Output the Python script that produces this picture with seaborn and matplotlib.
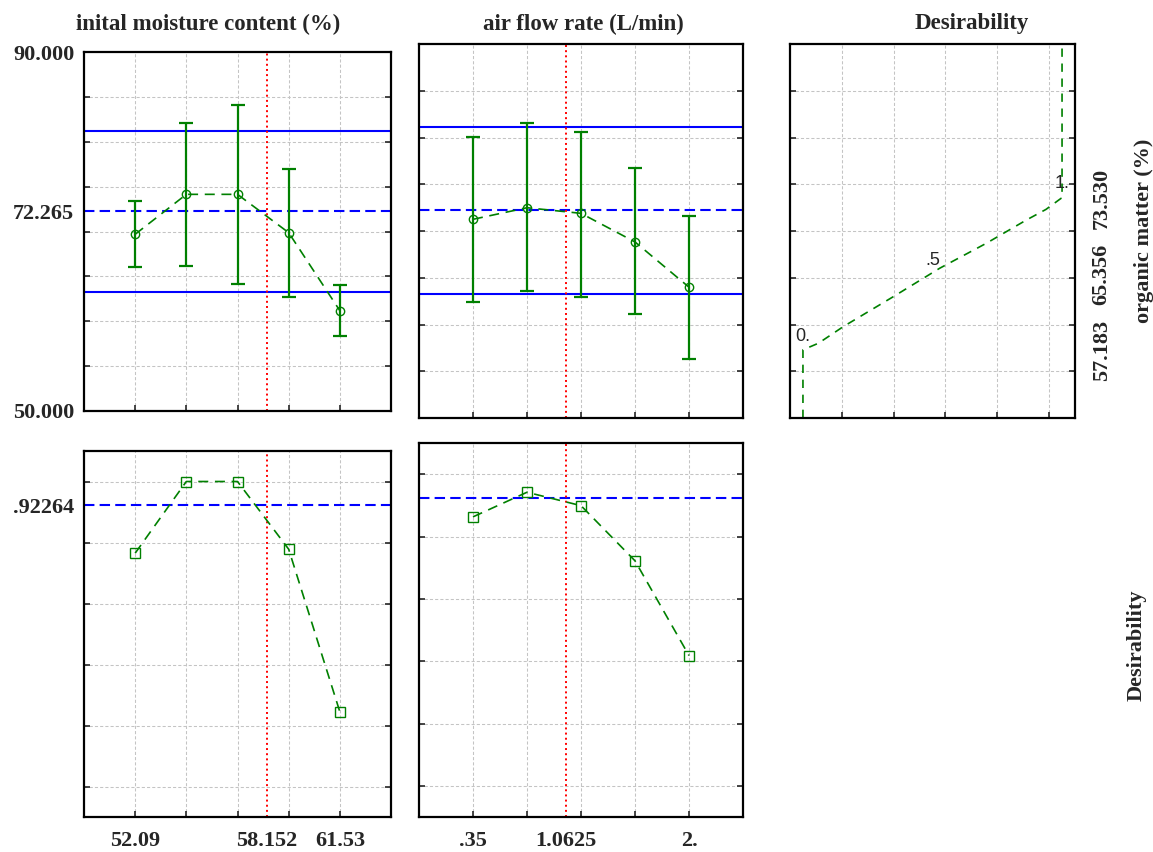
import numpy as np
import pandas as pd
import matplotlib
matplotlib.use("Agg")
import matplotlib.pyplot as plt
import seaborn as sns

# profiles for predicted values and desirability
moist_levels = [52.09, 54.45, 56.81, 59.17, 61.53]
moist_ticks = ["52.09", "", "", "", "61.53"]
om_moist = [69.69, 74.14, 74.14, 69.87, 61.18]
om_moist_lo = [66.08, 66.16, 64.15, 62.74, 58.36]
om_moist_hi = [73.36, 82.09, 84.13, 76.96, 64.04]
des_moist = [0.765, 1.0, 1.0, 0.778, 0.245]

flow_levels = [0.35, 0.7625, 1.175, 1.5875, 2.0]
flow_ticks = [".35", "", "", "", "2."]
om_flow = [71.25, 72.49, 71.89, 68.83, 63.99]
om_flow_lo = [62.45, 63.59, 62.99, 61.14, 56.33]
om_flow_hi = [80.04, 81.53, 80.57, 76.69, 71.57]
des_flow = [0.863, 0.942, 0.899, 0.722, 0.418]

om_ci = [63.27, 81.17]
om_pred = 72.265
des_pred = 0.92264
moist_opt = 58.152
flow_opt = 1.0625

# desirability function for organic matter
des_curve_d = [0.0, 0.0, 0.06, 0.156, 0.349, 0.528, 0.708, 0.862, 0.938, 0.996, 1.0, 1.0]
des_curve_y = [50.0, 57.29, 58.0, 59.78, 62.98, 66.02, 68.69, 71.17, 72.31, 73.49, 73.53, 90.0]
des_anchor_d = [0.0, 0.5, 1.0]
des_anchor_y = [57.183, 65.356, 73.530]
des_anchor_txt = ["0.", ".5", "1."]
des_anchor_ticks = ["57.183", "65.356", "73.530"]

sns.set_style("ticks")
plt.rcParams['font.family'] = ['Liberation Serif', 'DejaVu Serif']
plt.rcParams['font.weight'] = 'bold'

W, H = 1153, 852
fig = plt.figure(figsize=(W / 100, H / 100), dpi=100)
GREEN = '#008000'
FS = 16
TFS = 16.5


def px_axes(left, top, right, bottom):
    return fig.add_axes([left / W, 1 - bottom / H, (right - left) / W, (bottom - top) / H])


def style(ax):
    ax.set_axisbelow(True)
    ax.grid(True, which='major', color='#c4c4c4', linestyle=(0, (3, 2)), linewidth=0.75)
    ax.tick_params(which='major', direction='in', length=4, width=1.2,
                   left=True, right=True, bottom=True, top=False,
                   labelleft=False, labelbottom=False, labelsize=FS, pad=10)
    ax.tick_params(which='minor', length=0, labelsize=FS, pad=7)
    for s in ax.spines.values():
        s.set_visible(True)
        s.set_linewidth(1.6)
        s.set_color('black')
    ax.set_xlabel('')
    ax.set_ylabel('')


def top_profile(ax, levels, mean, lo, hi, opt):
    for v in om_ci:
        ax.axhline(v, color='blue', lw=1.5)
    ax.axhline(om_pred, color='blue', lw=1.5, ls=(0, (5, 2.5)))
    ax.axvline(opt, color='red', lw=1.4, ls=':')
    yerr = [np.subtract(mean, lo), np.subtract(hi, mean)]
    ax.errorbar(levels, mean, yerr=yerr, fmt='none', ecolor=GREEN,
                elinewidth=1.6, capsize=5, capthick=1.6)
    df = pd.DataFrame({'x': levels, 'y': mean})
    sns.lineplot(data=df, x='x', y='y', ax=ax, color=GREEN, lw=1.2,
                 linestyle=(0, (6, 4)), marker='o', markersize=6,
                 markerfacecolor='none', markeredgecolor=GREEN, markeredgewidth=1)
    step = levels[1] - levels[0]
    ax.set_xlim(levels[0] - step, levels[-1] + step)
    ax.set_ylim(50, 90)
    ax.set_xticks(levels)
    ax.set_yticks(np.arange(55, 90, 5))
    style(ax)


def bottom_profile(ax, levels, des, opt, ticks):
    ax.axhline(des_pred, color='blue', lw=1.5, ls=(0, (5, 2.5)))
    ax.axvline(opt, color='red', lw=1.4, ls=':')
    df = pd.DataFrame({'x': levels, 'y': des})
    sns.lineplot(data=df, x='x', y='y', ax=ax, color=GREEN, lw=1.2,
                 linestyle=(0, (6, 4)), marker='s', markersize=7,
                 markerfacecolor='none', markeredgecolor=GREEN, markeredgewidth=1)
    step = levels[1] - levels[0]
    ax.set_xlim(levels[0] - step, levels[-1] + step)
    ax.set_ylim(-0.1, 1.1)
    ax.set_yticks(np.arange(0, 1.01, 0.2))
    ax.set_xticks(levels, labels=ticks)
    ax.set_xticks([opt], labels=["%g" % opt], minor=True)
    style(ax)
    ax.tick_params(which='major', labelbottom=True)
    ax.tick_params(which='minor', axis='x', pad=10)


# top row
ax1 = px_axes(84, 52, 391, 411)
top_profile(ax1, moist_levels, om_moist, om_moist_lo, om_moist_hi, moist_opt)
ax1.set_yticks([50, om_pred, 90], labels=["50.000", "72.265", "90.000"], minor=True)

ax2 = px_axes(419, 44, 743, 418)
top_profile(ax2, flow_levels, om_flow, om_flow_lo, om_flow_hi, flow_opt)

ax3 = px_axes(790, 44, 1075, 418)
df3 = pd.DataFrame({'d': des_curve_d, 'y': des_curve_y})
sns.lineplot(data=df3, x='d', y='y', ax=ax3, color=GREEN, lw=1.2,
             linestyle=(0, (5, 4)), sort=False, estimator=None)
for d, y, s in zip(des_anchor_d, des_anchor_y, des_anchor_txt):
    ax3.annotate(s, (d, y), xytext=(0, 4), textcoords='offset points',
                 ha='center', va='bottom', fontsize=13, fontweight='normal',
                 fontfamily='Liberation Sans')
ax3.set_xlim(-0.05, 1.05)
ax3.set_ylim(50, 90)
ax3.set_xticks([0.15, 0.35, 0.55, 0.75, 0.95])
ax3.set_yticks(np.arange(55, 90, 5))
style(ax3)
ax3.set_yticks(des_anchor_y, labels=des_anchor_ticks, minor=True)
ax3.tick_params(which='minor', axis='y', left=False, right=True, labelleft=False,
                labelright=True, labelrotation=90, pad=12)
plt.setp(ax3.get_yticklabels(minor=True), va='center')
ax3.yaxis.set_label_position('right')
ax3.set_ylabel('organic matter (%)', fontsize=FS, fontweight='bold', labelpad=16)

# bottom row
ax4 = px_axes(84, 451, 391, 817)
bottom_profile(ax4, moist_levels, des_moist, moist_opt, moist_ticks)
ax4.set_yticks([des_pred], labels=[".92264"], minor=True)

ax5 = px_axes(419, 443, 743, 817)
bottom_profile(ax5, flow_levels, des_flow, flow_opt, flow_ticks)

fig.text(208 / W, 1 - 24 / H, "inital moisture content (%)", ha='center', va='center', fontsize=TFS)
fig.text(583 / W, 1 - 24 / H, "air flow rate (L/min)", ha='center', va='center', fontsize=TFS)
fig.text(972 / W, 1 - 24 / H, "Desirability", ha='center', va='center', fontsize=TFS)
fig.text(1137 / W, 1 - 645 / H, "Desirability", ha='center', va='center', rotation=90, fontsize=FS)

fig.savefig("out.png", dpi=100)
